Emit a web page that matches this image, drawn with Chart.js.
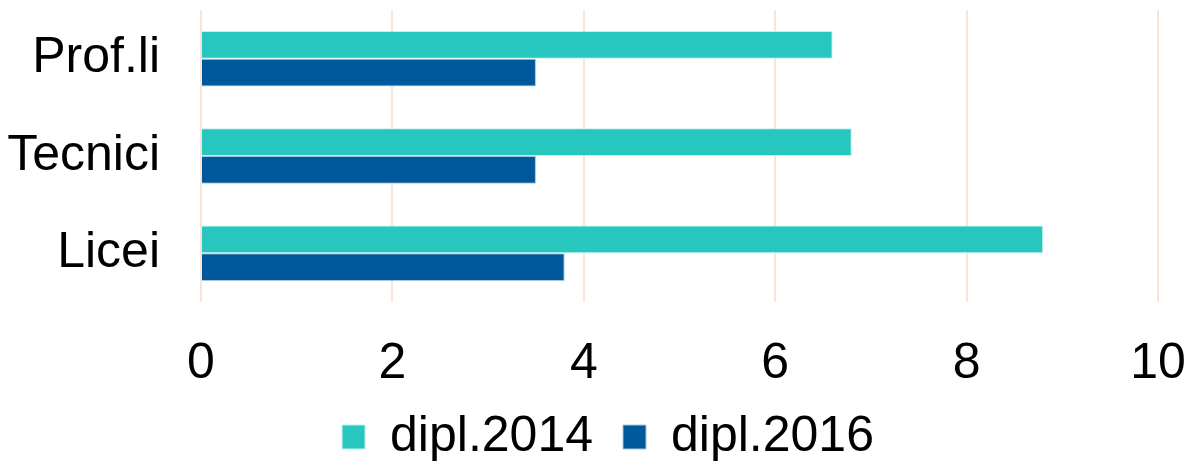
<!DOCTYPE html>
<html lang="it">
<head>
    <meta charset="UTF-8">
    <title>Diplomati 2014 / 2016</title>
    <script src="https://cdn.jsdelivr.net/npm/chart.js@4.4.1/dist/chart.umd.min.js"></script>
    <style>
        body {
            margin: 0;
            padding: 0;
            background: #ffffff;
        }
        .wrap {
            width: 1190px;
            height: 462px;
            position: relative;
        }
    </style>
</head>
<body>
    <div class="wrap">
        <canvas id="diplChart"></canvas>
    </div>
    <script>
        // Data
        const categories = ['Prof.li', 'Tecnici', 'Licei'];
        const dipl2014 = [6.6, 6.8, 8.8];
        const dipl2016 = [3.5, 3.5, 3.8];
        const xTicks = [0, 2, 4, 6, 8, 10];

        const fontFamily = '"Liberation Sans", Arial, sans-serif';
        const fontSize = 50;

        // small nudge so the legend sits where the original one is
        // (top moves up, bottom stays, so the legend clip box still holds the items)
        const legendNudge = {
            id: 'legendNudge',
            afterLayout(chart) {
                const lg = chart.legend;
                if (!lg) return;
                lg.left += 11;
                lg.right += 11;
                lg.top -= 2;
            }
        };

        const ctx = document.getElementById('diplChart').getContext('2d');
        const diplChart = new Chart(ctx, {
            type: 'bar',
            data: {
                labels: categories,
                datasets: [{
                    label: 'dipl.2014',
                    data: dipl2014,
                    backgroundColor: '#27c7bf',
                    borderColor: '#bff0ec',
                    borderWidth: 1,
                    categoryPercentage: 0.57,
                    barPercentage: 1.0
                }, {
                    label: 'dipl.2016',
                    data: dipl2016,
                    backgroundColor: '#00589c',
                    borderColor: '#a8c4dc',
                    borderWidth: 1,
                    categoryPercentage: 0.57,
                    barPercentage: 1.0
                }]
            },
            plugins: [legendNudge],
            options: {
                indexAxis: 'y',
                responsive: true,
                maintainAspectRatio: false,
                animation: false,
                layout: {
                    padding: { top: 10, right: 0, bottom: 0, left: 4 }
                },
                scales: {
                    x: {
                        min: 0,
                        max: 10,
                        afterBuildTicks: (axis) => {
                            axis.ticks = xTicks.map(v => ({ value: v }));
                        },
                        afterFit: (axis) => {
                            axis.height = 82;
                            axis.paddingLeft = 0;
                            axis.paddingRight = 32;
                        },
                        grid: {
                            color: '#fce3d9',
                            lineWidth: 2,
                            drawTicks: false
                        },
                        border: { display: false },
                        ticks: {
                            color: '#000000',
                            font: { family: fontFamily, size: fontSize },
                            padding: 32
                        }
                    },
                    y: {
                        afterFit: (axis) => {
                            // labels are centred in the bands, no extra room needed above/below
                            axis.paddingTop = 0;
                            axis.paddingBottom = 0;
                            axis.width = 197;
                        },
                        grid: { display: false, drawTicks: false },
                        border: { display: false },
                        ticks: {
                            color: '#000000',
                            font: { family: fontFamily, size: fontSize },
                            padding: 41
                        }
                    }
                },
                plugins: {
                    legend: {
                        position: 'bottom',
                        maxHeight: 78,
                        labels: {
                            color: '#000000',
                            font: { family: fontFamily, size: fontSize },
                            boxWidth: 23,
                            boxHeight: 24,
                            padding: 30,
                            useBorderRadius: false
                        }
                    },
                    tooltip: { enabled: false }
                }
            }
        });
    </script>
</body>
</html>
